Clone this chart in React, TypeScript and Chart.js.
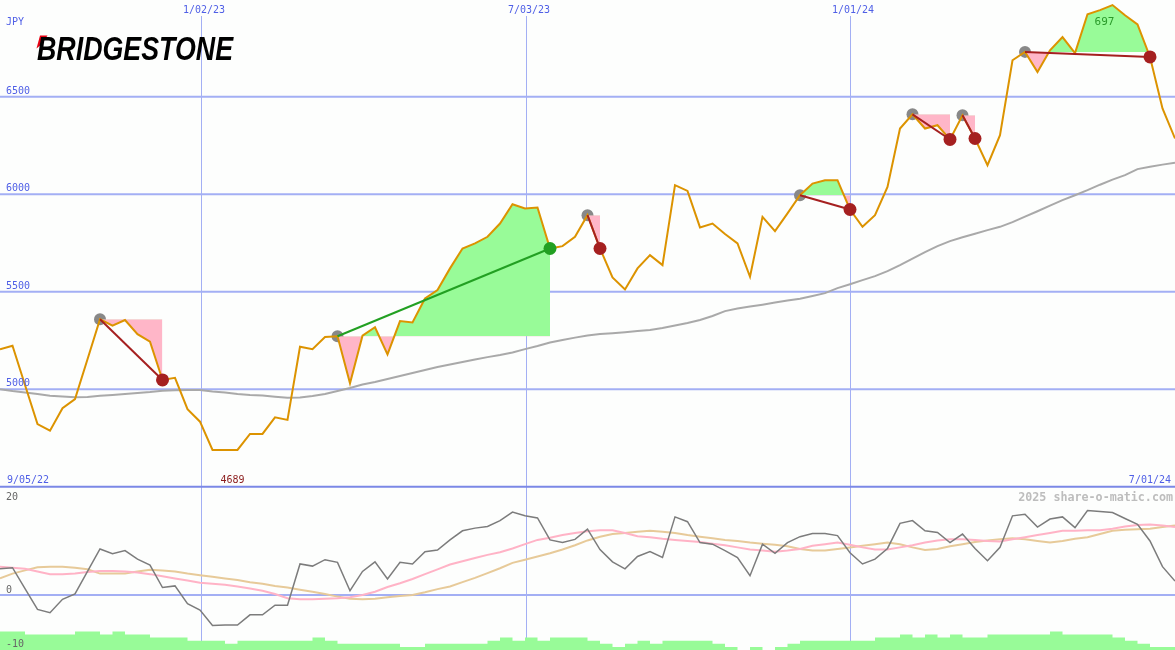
import React, { useEffect, useRef } from 'react';
import { Chart, registerables } from 'chart.js';

Chart.register(...registerables);

// ---------- data (weekly points, index 0 = first visible week) ----------
const priceValues = [
  5205, 5223, 5022, 4822, 4788, 4903, 4950, 5154, 5359, 5326,
  5355, 5283, 5244, 5048, 5059, 4898, 4834, 4689, 4689, 4689,
  4771, 4771, 4856, 4843, 5218, 5206, 5268, 5272, 5031, 5275,
  5318, 5179, 5350, 5343, 5466, 5509, 5620, 5722, 5748, 5782,
  5850, 5949, 5927, 5932, 5722, 5734, 5782, 5893, 5722, 5574,
  5512, 5620, 5688, 5637, 6047, 6017, 5830, 5850, 5796, 5748,
  5577, 5884, 5811, 5902, 5995, 6055, 6072, 6072, 5922, 5833,
  5893, 6038, 6337, 6410, 6337, 6354, 6281, 6405, 6286, 6149,
  6303, 6687, 6730, 6627, 6738, 6806, 6724, 6923, 6944, 6970,
  6918, 6871, 6704, 6440, 6286,
];

const maValues = [
  5000, 4991, 4984, 4976, 4967, 4963, 4959, 4961, 4967, 4971,
  4976, 4981, 4986, 4993, 4995, 4996, 4996, 4989, 4984, 4976,
  4971, 4968, 4962, 4957, 4958, 4966, 4976, 4991, 5007, 5025,
  5037, 5053, 5068, 5084, 5099, 5114, 5127, 5140, 5153, 5165,
  5176, 5189, 5206, 5222, 5240, 5253, 5265, 5276, 5283, 5288,
  5293, 5299, 5304, 5314, 5327, 5340, 5355, 5376, 5401, 5414,
  5424, 5434, 5445, 5455, 5464, 5478, 5493, 5519, 5539, 5560,
  5580, 5606, 5637, 5670, 5703, 5734, 5760, 5780, 5798, 5816,
  5833, 5857, 5885, 5913, 5942, 5970, 5995, 6021, 6049, 6075,
  6098, 6129, 6141, 6152, 6161,
];

const momentumValues = [
  4.9, 5.1, 1.2, -2.7, -3.3, -0.8, 0.2, 4.4, 8.6, 7.7,
  8.3, 6.7, 5.6, 1.4, 1.7, -1.6, -2.8, -5.7, -5.6, -5.6,
  -3.7, -3.7, -1.9, -1.9, 5.8, 5.4, 6.6, 6.1, 0.8, 4.4,
  6.2, 3.0, 6.1, 5.8, 8.1, 8.4, 10.3, 12.0, 12.5, 12.8,
  13.9, 15.5, 14.8, 14.4, 10.3, 9.8, 10.4, 12.3, 8.5, 6.2,
  4.9, 7.2, 8.1, 7.0, 14.6, 13.7, 9.8, 9.5, 8.3, 7.0,
  3.6, 9.5, 7.8, 9.8, 10.9, 11.5, 11.5, 11.1, 7.9, 5.8,
  6.7, 8.7, 13.4, 13.9, 12.0, 11.7, 9.8, 11.4, 8.7, 6.4,
  8.9, 14.8, 15.1, 12.7, 14.2, 14.6, 12.6, 15.8, 15.6, 15.4,
  14.3, 13.2, 10.1, 5.3, 2.6,
];

const pinkValues = [
  5.3, 5.1, 4.9, 4.4, 3.9, 3.9, 4.0, 4.3, 4.5, 4.5,
  4.4, 4.2, 3.9, 3.5, 3.1, 2.7, 2.3, 2.1, 1.9, 1.6,
  1.2, 0.8, 0.2, -0.6, -0.8, -0.8, -0.7, -0.6, -0.4, 0.0,
  0.6, 1.5, 2.2, 3.0, 3.9, 4.8, 5.7, 6.3, 6.9, 7.5,
  8.0, 8.7, 9.5, 10.3, 10.7, 11.2, 11.6, 11.9, 12.1, 12.1,
  11.6, 11.0, 10.8, 10.5, 10.3, 10.1, 9.9, 9.6, 9.3, 8.9,
  8.5, 8.3, 8.1, 8.3, 8.6, 9.2, 9.5, 9.8, 9.4, 8.9,
  8.5, 8.5, 8.9, 9.3, 9.8, 10.2, 10.4, 10.4, 10.3, 10.1,
  10.0, 10.4, 10.8, 11.2, 11.6, 12.0, 12.0, 12.1, 12.1, 12.4,
  12.8, 13.1, 13.2, 13.0, 12.7,
];

const tanValues = [
  3.1, 4.0, 4.6, 5.2, 5.3, 5.3, 5.1, 4.8, 4.0, 4.0,
  4.0, 4.4, 4.7, 4.6, 4.4, 4.0, 3.7, 3.4, 3.1, 2.8,
  2.4, 2.1, 1.7, 1.4, 1.0, 0.6, 0.2, -0.3, -0.7, -0.8,
  -0.7, -0.4, -0.2, 0.0, 0.5, 1.1, 1.6, 2.4, 3.2, 4.1,
  5.0, 6.0, 6.6, 7.2, 7.8, 8.5, 9.3, 10.2, 10.9, 11.4,
  11.6, 11.8, 12.0, 11.8, 11.6, 11.2, 10.9, 10.6, 10.3, 10.1,
  9.8, 9.6, 9.4, 9.1, 8.6, 8.3, 8.3, 8.6, 8.9, 9.2,
  9.5, 9.8, 9.5, 8.9, 8.4, 8.6, 9.1, 9.5, 9.9, 10.2,
  10.4, 10.6, 10.4, 10.1, 9.8, 10.1, 10.5, 10.8, 11.4, 12.0,
  12.2, 12.3, 12.4, 12.7, 13.0,
];

const volumeLevels = [
  6, 6, 5, 5, 5, 5, 6, 6, 5, 6,
  5, 5, 4, 4, 4, 3, 3, 3, 2, 3,
  3, 3, 3, 3, 3, 4, 3, 2, 2, 2,
  2, 2, 1, 1, 2, 2, 2, 2, 2, 3,
  4, 3, 4, 3, 4, 4, 4, 3, 2, 1,
  2, 3, 2, 3, 3, 3, 3, 2, 1, 0,
  1, 0, 1, 2, 3, 3, 3, 3, 3, 3,
  4, 4, 5, 4, 5, 4, 5, 4, 4, 5,
  5, 5, 5, 5, 6, 5, 5, 5, 5, 4,
  3, 2, 1, 1,
];

const priceTicks = [5000, 5500, 6000, 6500];
const oscTicks = [20, 0, -10];
const dateGridLabels = ['1/02/23', '7/03/23', '1/01/24'];
const dateGridWeeks = [16.08, 42.08, 68];
const patternStarts = [8, 27, 47, 64, 73, 77, 82];
const patternEnds = [13, 44, 48, 68, 76, 78, 92];
const currencyLabel = 'JPY';
const startDateLabel = '9/05/22';
const endDateLabel = '7/01/24';
const lowLabel = '4689';
const highLabel = '697';
const creditLabel = '2025 share-o-matic.com';
const logoText = 'BRIDGESTONE';

// ---------- styles ----------
const GRID = '#a3aff4';
const SEPARATOR = '#7b88e6';
const AXIS_TEXT = '#4f5fe6';
const ORANGE = '#dc9300';
const PINK_FILL = '#ffb6c8';
const GREEN_FILL = '#98fb98';
const DOWN_RED = '#a52020';
const UP_GREEN = '#22a022';
const START_GRAY = '#888888';
const MONO = '"DejaVu Sans Mono", monospace';

const xMin = 0;
const xMax = priceValues.length - 1;

const pts = (arr: number[]) => arr.map((v, i) => ({ x: i, y: v }));

const topDecor = {
  id: 'topDecor',
  beforeDatasetsDraw(chart: any) {
    const { ctx, scales } = chart;
    const x = scales.x;
    const y = scales.y;
    const w = chart.width;
    const h = chart.height;
    ctx.save();
    ctx.strokeStyle = GRID;
    ctx.lineWidth = 2;
    priceTicks.forEach((v) => {
      const py = y.getPixelForValue(v);
      ctx.beginPath();
      ctx.moveTo(0, py);
      ctx.lineTo(w, py);
      ctx.stroke();
    });
    ctx.lineWidth = 1;
    dateGridWeeks.forEach((wk) => {
      const px = Math.round(x.getPixelForValue(wk)) + 0.5;
      ctx.beginPath();
      ctx.moveTo(px, 16);
      ctx.lineTo(px, h);
      ctx.stroke();
    });
    ctx.strokeStyle = SEPARATOR;
    ctx.lineWidth = 2;
    const sy = y.getPixelForValue(4500);
    ctx.beginPath();
    ctx.moveTo(0, sy);
    ctx.lineTo(w, sy);
    ctx.stroke();
    ctx.restore();
  },
  afterDatasetsDraw(chart: any) {
    const { ctx, scales } = chart;
    const x = scales.x;
    const y = scales.y;
    const w = chart.width;
    ctx.save();
    ctx.font = `10px ${MONO}`;
    ctx.fillStyle = AXIS_TEXT;
    ctx.textBaseline = 'alphabetic';
    ctx.textAlign = 'left';
    priceTicks.forEach((v) => {
      ctx.fillText(String(v), 6, y.getPixelForValue(v) - 3);
    });
    ctx.fillText(currencyLabel, 6, 25);
    ctx.fillText(startDateLabel, 7, 483);
    ctx.textAlign = 'center';
    dateGridLabels.forEach((lab, k) => {
      ctx.fillText(lab, x.getPixelForValue(dateGridWeeks[k]) + 3, 13);
    });
    ctx.textAlign = 'right';
    ctx.fillText(endDateLabel, w - 4, 483);

    // low / high labels
    let lo = 0;
    let hi = 0;
    priceValues.forEach((v, i) => {
      if (v < priceValues[lo]) lo = i;
      if (v > priceValues[hi]) hi = i;
    });
    ctx.textAlign = 'left';
    ctx.fillStyle = '#8b1c1c';
    ctx.fillText(lowLabel, x.getPixelForValue(lo) + 8, 483);
    ctx.textAlign = 'center';
    ctx.fillStyle = '#2a9a2a';
    ctx.font = `11px ${MONO}`;
    ctx.fillText(highLabel, x.getPixelForValue(hi) - 8, 25);

    // logo
    ctx.fillStyle = '#e60012';
    ctx.beginPath();
    ctx.moveTo(40, 35.5);
    ctx.lineTo(47.5, 35.5);
    ctx.lineTo(42, 44);
    ctx.lineTo(36.5, 48.5);
    ctx.closePath();
    ctx.fill();
    ctx.fillStyle = '#000000';
    ctx.font = 'italic bold 34px "Liberation Sans", Arial, sans-serif';
    ctx.textAlign = 'left';
    ctx.fillText(logoText, 37, 60, 196);
    ctx.restore();
  },
};

const bottomDecor = {
  id: 'bottomDecor',
  beforeDatasetsDraw(chart: any) {
    const { ctx, scales } = chart;
    const x = scales.x;
    const y = scales.y;
    const w = chart.width;
    const h = chart.height;
    ctx.save();
    ctx.strokeStyle = GRID;
    ctx.lineWidth = 1;
    dateGridWeeks.forEach((wk) => {
      const px = Math.round(x.getPixelForValue(wk)) + 0.5;
      ctx.beginPath();
      ctx.moveTo(px, 0);
      ctx.lineTo(px, h);
      ctx.stroke();
    });
    ctx.lineWidth = 2;
    const zy = y.getPixelForValue(0);
    ctx.beginPath();
    ctx.moveTo(0, zy);
    ctx.lineTo(w, zy);
    ctx.stroke();
    ctx.restore();
  },
  afterDatasetsDraw(chart: any) {
    const { ctx, scales } = chart;
    const y = scales.y;
    const w = chart.width;
    const h = chart.height;
    ctx.save();
    ctx.font = `10px ${MONO}`;
    ctx.fillStyle = '#666666';
    ctx.textAlign = 'left';
    oscTicks.forEach((v) => {
      const py = Math.min(Math.max(y.getPixelForValue(v) - 2, 12), h - 3);
      ctx.fillText(String(v), 6, py);
    });
    ctx.font = `bold 11.7px ${MONO}`;
    ctx.fillStyle = '#bdbdbd';
    ctx.textAlign = 'right';
    ctx.fillText(creditLabel, w - 2, 13);
    ctx.restore();
  },
};

export default function App() {
  const topRef = useRef<HTMLCanvasElement>(null);
  const botRef = useRef<HTMLCanvasElement>(null);

  useEffect(() => {
    document.body.style.margin = '0';

    const fillSets = patternStarts.map((s, k) => {
      const e = patternEnds[k];
      const seg: { x: number; y: number }[] = [];
      for (let i = s; i <= e; i++) seg.push({ x: i, y: priceValues[i] });
      return {
        data: seg,
        borderWidth: 0,
        pointRadius: 0,
        fill: { target: { value: priceValues[s] }, above: GREEN_FILL, below: PINK_FILL },
        order: 9,
      };
    });

    const trendSets = patternStarts.map((s, k) => {
      const e = patternEnds[k];
      const up = priceValues[e] > priceValues[s];
      return {
        data: [
          { x: s, y: priceValues[s] },
          { x: e, y: priceValues[e] },
        ],
        borderColor: up ? UP_GREEN : DOWN_RED,
        borderWidth: 2,
        pointRadius: 0,
        fill: false,
        order: 4,
      };
    });

    const startDots = {
      data: patternStarts.map((s) => ({ x: s, y: priceValues[s] })),
      showLine: false,
      pointRadius: 6,
      pointBorderWidth: 0,
      pointBackgroundColor: START_GRAY,
      order: 10,
    };

    const endDots = {
      data: patternEnds.map((e) => ({ x: e, y: priceValues[e] })),
      showLine: false,
      pointRadius: 6.5,
      pointBorderWidth: 0,
      pointBackgroundColor: patternEnds.map((e, k) =>
        priceValues[e] > priceValues[patternStarts[k]] ? UP_GREEN : DOWN_RED
      ),
      order: 3,
    };

    const topChart = new Chart(topRef.current as HTMLCanvasElement, {
      type: 'line',
      data: {
        datasets: [
          startDots,
          ...fillSets,
          {
            data: pts(maValues),
            borderColor: '#a9a9a9',
            borderWidth: 2,
            pointRadius: 0,
            fill: false,
            order: 8,
          },
          {
            data: pts(priceValues),
            borderColor: ORANGE,
            borderWidth: 2,
            pointRadius: 0,
            fill: false,
            order: 5,
          },
          ...trendSets,
          endDots,
        ] as any,
      },
      options: {
        animation: false,
        responsive: false,
        devicePixelRatio: 1,
        layout: { padding: 0, autoPadding: false },
        elements: { line: { tension: 0 } },
        plugins: {
          legend: { display: false },
          tooltip: { enabled: false },
          filler: { propagate: false },
        },
        scales: {
          x: { type: 'linear', min: xMin, max: xMax, display: false },
          y: { type: 'linear', min: 4494, max: 6996, display: false },
        },
      } as any,
      plugins: [topDecor],
    });

    const volPts = volumeLevels.map((v, i) => ({ x: i, y: v }));
    volPts.push({ x: volumeLevels.length, y: volumeLevels[volumeLevels.length - 1] });

    const bottomChart = new Chart(botRef.current as HTMLCanvasElement, {
      type: 'line',
      data: {
        datasets: [
          {
            data: volPts,
            yAxisID: 'v',
            stepped: 'before',
            borderWidth: 0,
            pointRadius: 0,
            backgroundColor: GREEN_FILL,
            fill: 'start',
            order: 10,
          },
          {
            data: pts(tanValues),
            borderColor: '#e7ca99',
            borderWidth: 2,
            pointRadius: 0,
            fill: false,
            order: 7,
          },
          {
            data: pts(pinkValues),
            borderColor: '#ffb3c6',
            borderWidth: 2,
            pointRadius: 0,
            fill: false,
            order: 6,
          },
          {
            data: pts(momentumValues),
            borderColor: '#7c7c7c',
            borderWidth: 1.5,
            pointRadius: 0,
            fill: false,
            order: 5,
          },
        ] as any,
      },
      options: {
        animation: false,
        responsive: false,
        devicePixelRatio: 1,
        layout: { padding: 0, autoPadding: false },
        elements: { line: { tension: 0 } },
        plugins: { legend: { display: false }, tooltip: { enabled: false } },
        scales: {
          x: { type: 'linear', min: xMin, max: xMax, display: false },
          y: { type: 'linear', min: -10.28, max: 20, display: false },
          v: { type: 'linear', min: 0, max: 52.3, display: false },
        },
      } as any,
      plugins: [bottomDecor],
    });

    return () => {
      topChart.destroy();
      bottomChart.destroy();
    };
  }, []);

  return (
    <div
      style={{
        position: 'absolute',
        left: 0,
        top: 0,
        width: 1175,
        height: 650,
        background: '#fdfefd',
        overflow: 'hidden',
      }}
    >
      <canvas
        ref={topRef}
        width={1175}
        height={488}
        style={{ position: 'absolute', left: 0, top: 0, width: 1175, height: 488 }}
      />
      <canvas
        ref={botRef}
        width={1175}
        height={162}
        style={{ position: 'absolute', left: 0, top: 488, width: 1175, height: 162 }}
      />
    </div>
  );
}
